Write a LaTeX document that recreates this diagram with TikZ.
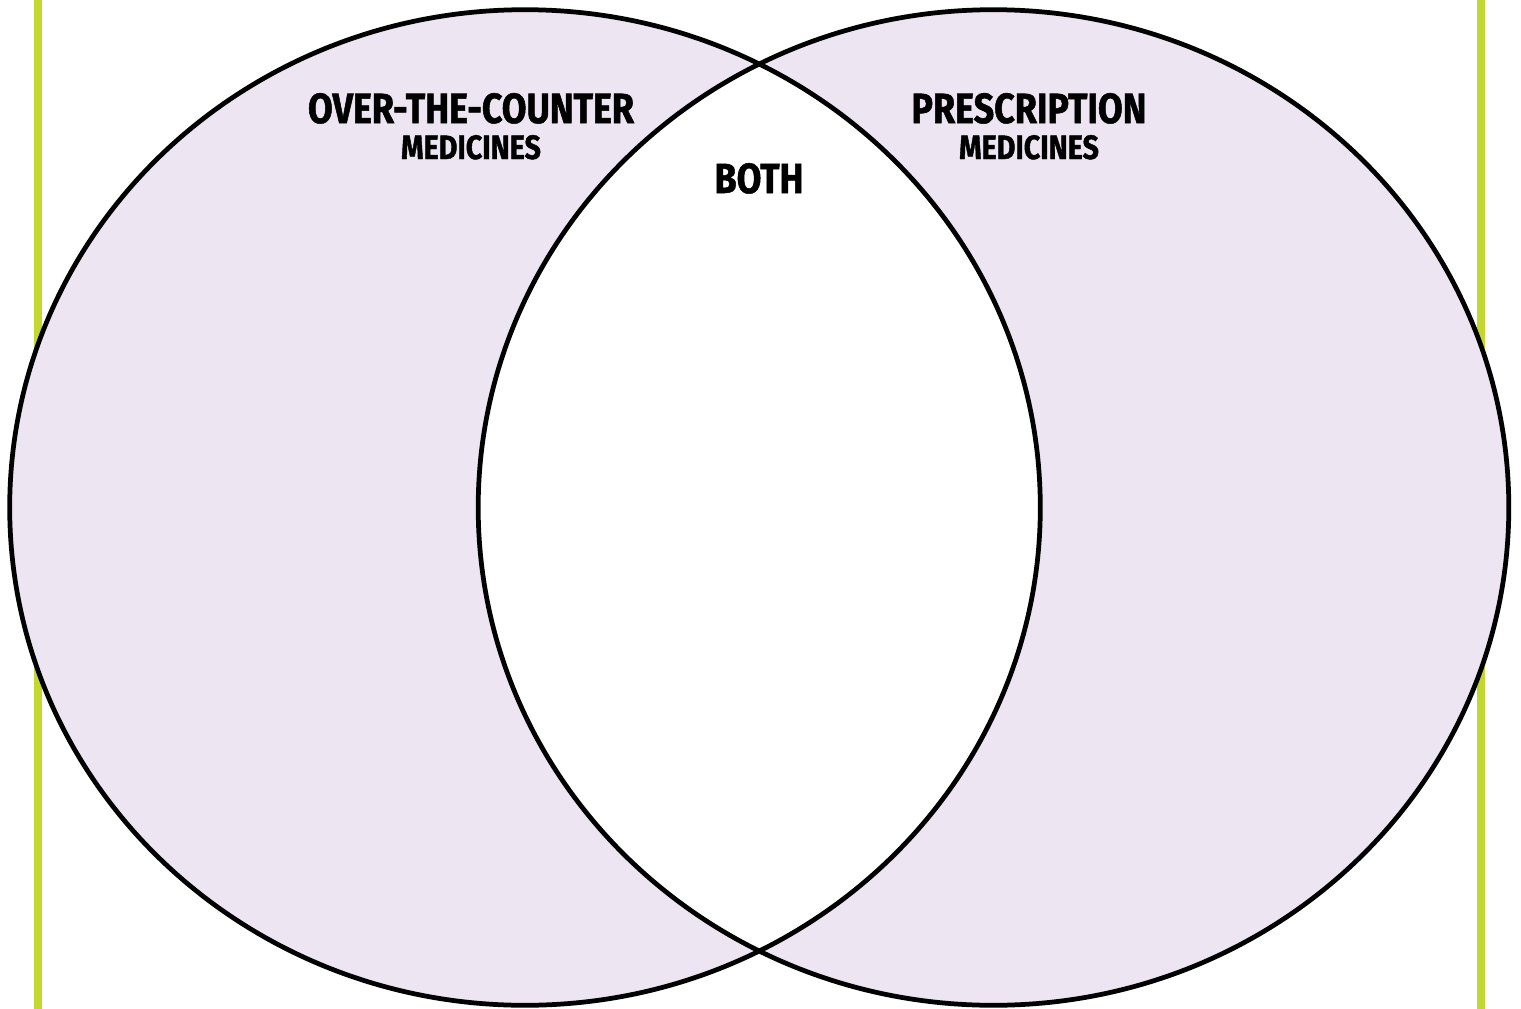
\documentclass[tikz,border=0pt]{standalone}
\usepackage{fontspec}
\newfontfamily\headfont{Fira Sans}[FakeStretch=0.85, BoldFeatures={FakeBold=1.2}]
\definecolor{lilac}{RGB}{237,229,242}
\definecolor{lime}{RGB}{194,216,48}
\tikzset{
	title/.style={font=\headfont\bfseries\fontsize{12}{12}\selectfont, inner sep=0pt, anchor=base},
	subtitle/.style={font=\headfont\bfseries\fontsize{9.6}{10}\selectfont, inner sep=0pt, anchor=base},
	ring/.style={line width=1.35pt},
}

\begin{document}
\begin{tikzpicture}[x=.01cm,y=-.01cm]
	\useasboundingbox (0,0) rectangle (1521,1009);
	\fill[white] (0,0) rectangle (1521,1009);
	
	\fill[lime] (34,0) rectangle (42,1009);
	\fill[lime] (1477,0) rectangle (1485,1009);
	
	\fill[lilac] (525,507.5) ellipse [x radius=5.15cm, y radius=4.975cm];
	\fill[lilac] (993.5,507.5) ellipse [x radius=5.15cm, y radius=4.975cm];
	\begin{scope}
		\clip (525,507.5) ellipse [x radius=5.15cm, y radius=4.975cm];
		\fill[white] (993.5,507.5) ellipse [x radius=5.15cm, y radius=4.975cm];
	\end{scope}
	\draw[ring] (525,507.5) ellipse [x radius=5.15cm, y radius=4.975cm];
	\draw[ring] (993.5,507.5) ellipse [x radius=5.15cm, y radius=4.975cm];
	
	\node[title] (otc) at (471,123) {OVER-THE-COUNTER};
	\node[subtitle] (otcsub) at (471,159) {MEDICINES};
	\node[title] (rx) at (1029,123) {PRESCRIPTION};
	\node[subtitle] (rxsub) at (1029,159) {MEDICINES};
	\node[title] (both) at (759,193) {BOTH};
\end{tikzpicture}
\end{document}
